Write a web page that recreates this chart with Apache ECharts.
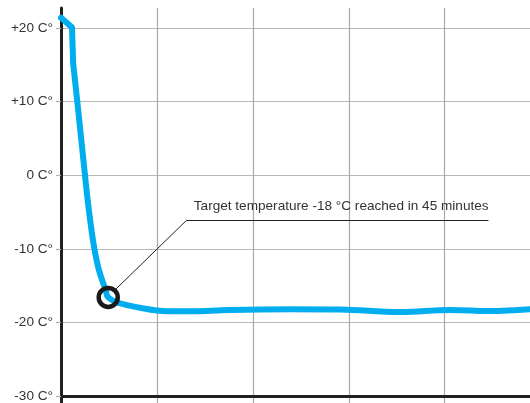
<!DOCTYPE html>
<html><head><meta charset="utf-8">
<script src="https://cdn.jsdelivr.net/npm/echarts@6/dist/echarts.min.js"></script>
<style>html,body{margin:0;padding:0;background:#fff}#c{width:530px;height:403px}</style>
</head><body><div id="c"></div>
<script>
// time in minutes, temperature in °C
const timeMin = [0, 10.3, 11.4, 15.3, 22.5, 26.8, 31.2, 35.6, 41.9, 44.3, 55.3, 74, 95, 120, 158, 215, 262, 318, 365, 402, 440];
const tempC   = [21.4, 20.1, 15.2, 10.0, 0.0, -5.5, -9.9, -12.9, -15.6, -16.6, -17.4, -18.0, -18.45, -18.5, -18.3, -18.2, -18.25, -18.6, -18.3, -18.45, -18.2];
const yTicks = [-30, -20, -10, 0, 10, 20];
const xTicks = [0, 90, 180, 270, 360];
const targetPoint = [44.3, -16.6];
const leaderStart = [50.6, -15.6];
const leaderCorner = [118, -6.1];
const leaderEnd = [401, -6.1];
const annotationText = 'Target temperature -18 °C reached in 45 minutes';

const pts = timeMin.map((t, i) => [t, tempC[i]]);
const rampPts = pts.slice(0, 5);
const coolPts = pts.slice(4);

const chart = echarts.init(document.getElementById('c'), null, {renderer: 'canvas'});
const font = '"Liberation Sans", Arial, sans-serif';
chart.setOption({
  animation: false,
  grid: {left: 61, right: 0, top: 8, bottom: 0, containLabel: false},
  xAxis: {
    type: 'value', min: 0, max: 440,
    axisLine: {show: false},
    axisTick: {show: false, customValues: xTicks},
    axisLabel: {show: false, customValues: xTicks},
    splitLine: {show: true, lineStyle: {color: '#a8a8a8', width: 1.2}}
  },
  yAxis: {
    type: 'value', min: -30.95, max: 22.72,
    axisLine: {show: true, onZero: false, lineStyle: {color: '#231f20', width: 3}},
    axisTick: {show: true, length: 5, customValues: yTicks, lineStyle: {color: '#b0b0b0', width: 1.2}},
    axisLabel: {
      customValues: yTicks, color: '#333', fontSize: 13.6, fontFamily: font, margin: 8,
      formatter: v => (v > 0 ? '+' + v : '' + v) + ' C°'
    },
    splitLine: {show: true, lineStyle: {color: '#b8b8b8', width: 1.2}}
  },
  series: [
    {
      type: 'line', data: rampPts, showSymbol: false, smooth: false,
      lineStyle: {color: '#00aeef', width: 6, cap: 'round', join: 'round'}, z: 3,
      markLine: {
        silent: true, symbol: 'none', animation: false,
        lineStyle: {color: '#231f20', width: 3, type: 'solid'},
        label: {show: false},
        data: [{yAxis: -30}]
      }
    },
    {
      type: 'line', data: coolPts, showSymbol: false, smooth: 0.4,
      lineStyle: {color: '#00aeef', width: 6, cap: 'round', join: 'round'}, z: 3,
      markLine: {
        silent: true, symbol: 'none', animation: false,
        lineStyle: {color: '#231f20', width: 1, type: 'solid'},
        label: {show: false},
        data: [
          [{coord: leaderStart}, {coord: leaderCorner}],
          [{coord: leaderCorner, label: {show: true, formatter: annotationText, position: 'insideStartTop', distance: [7, 7], color: '#333', fontSize: 13.6, fontFamily: font}}, {coord: leaderEnd}]
        ]
      }
    },
    {
      type: 'scatter', data: [targetPoint], symbol: 'circle', symbolSize: 19, z: 5,
      itemStyle: {color: 'rgba(0,0,0,0)', borderColor: '#1a1a1a', borderWidth: 4.5, opacity: 1}
    }
  ]
});
</script></body></html>
